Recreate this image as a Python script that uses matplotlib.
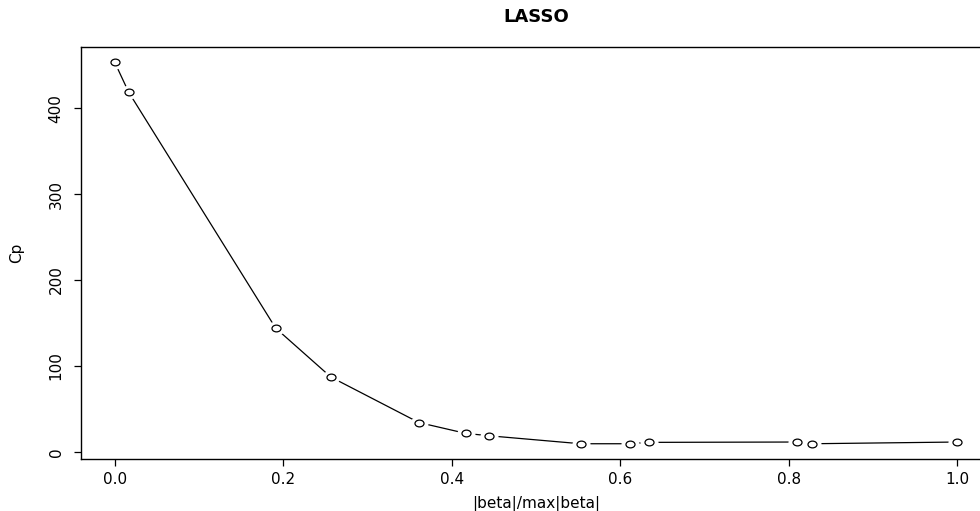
import matplotlib.pyplot as plt
from matplotlib.path import Path
from matplotlib.transforms import Affine2D

plt.rcParams["font.family"] = ["DejaVu Sans"]
plt.rcParams["font.size"] = 11

# lasso path: fraction of the L1 norm vs Mallows' Cp
frac = [0.0, 0.0166, 0.191, 0.2565, 0.361, 0.4165, 0.444, 0.553, 0.6116,
        0.6346, 0.8096, 0.8274, 1.0]
cp = [453.6, 418.7, 144.0, 87.0, 34.0, 21.4, 18.6, 9.3, 9.3,
      10.9, 11.3, 9.3, 11.3]

# slightly flattened circle for the point symbol
oval = Affine2D().scale(1.0, 0.75).transform_path(Path.unit_circle())

fig = plt.figure(figsize=(9.8, 5.11), dpi=100)
ax = fig.add_axes([81 / 980, 52 / 511, 910 / 980, 412 / 511])

# type="b" look: line broken around each open circle
ax.plot(frac, cp, color="black", lw=0.9, zorder=1)
ax.plot(frac, cp, ls="none", marker=oval, ms=12, mfc="white", mec="white", zorder=2)
ax.plot(frac, cp, ls="none", marker=oval, ms=6.5, mfc="white", mec="black",
        mew=0.9, zorder=3)

lo, hi = min(cp), max(cp)
ax.set_xlim(-0.04, 1.04)
ax.set_ylim(lo - 0.04 * (hi - lo), hi + 0.04 * (hi - lo))
ax.set_xticks([0.0, 0.2, 0.4, 0.6, 0.8, 1.0])
ax.set_xticklabels(["0.0", "0.2", "0.4", "0.6", "0.8", "1.0"])
ax.set_yticks([0, 100, 200, 300, 400])

for s in ax.spines.values():
    s.set_linewidth(1.0)
    s.set_color("black")
ax.tick_params(axis="both", direction="out", length=5, width=0.9, labelsize=11)
ax.tick_params(axis="x", pad=4.5)
ax.tick_params(axis="y", pad=7.5)
for lab in ax.get_yticklabels():
    lab.set_rotation(90)
    lab.set_va("center")

ax.set_title("LASSO", fontsize=13, fontweight="bold", pad=18)
ax.set_xlabel("|beta|/max|beta|", fontsize=11)
ax.set_ylabel("Cp", fontsize=11)
ax.xaxis.set_label_coords(0.5, -0.09)
ax.yaxis.set_label_coords(-0.062, 0.5)

plt.savefig("out.png", dpi=100)
plt.close("all")
